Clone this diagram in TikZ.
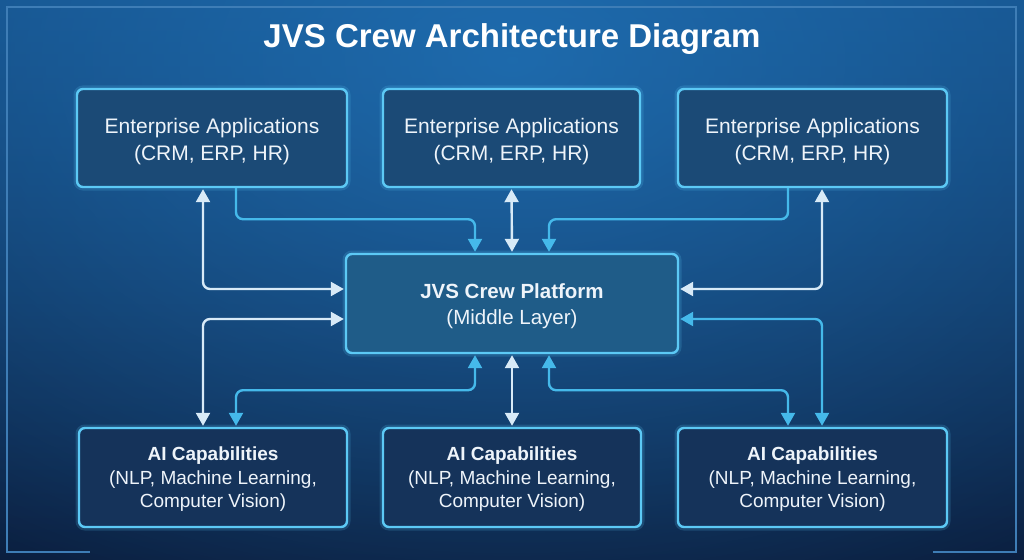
\documentclass[tikz,border=0pt]{standalone}
\usepackage{fontspec}
\setmainfont{Liberation Sans}
\newfontfamily\titlefont{Liberation Sans}
\usetikzlibrary{arrows.meta,fadings}
\definecolor{bgtop}{HTML}{13497F}
\definecolor{bgbot}{HTML}{0A1A38}
\definecolor{bgglow}{HTML}{2277BE}
\definecolor{framec}{HTML}{3E7DB6}
\definecolor{edgec}{HTML}{5CC9F5}
\definecolor{topfill}{HTML}{1B4A76}
\definecolor{pffill}{HTML}{1F5C88}
\definecolor{botfill}{HTML}{15335A}
\definecolor{wline}{HTML}{D8EAF7}
\definecolor{cline}{HTML}{45B9EA}
\definecolor{txt}{HTML}{EEF4FA}
\tikzfading[name=glowfade, inner color=transparent!0, outer color=transparent!100]
\tikzset{
  boxbase/.style={draw=edgec, line width=2.4pt, rounded corners=6pt,
    preaction={draw=edgec, line width=7pt, draw opacity=0.18, rounded corners=6pt}},
  topbox/.style={boxbase, fill=topfill, minimum height=98pt},
  pfbox/.style={boxbase, fill=pffill, minimum width=332pt, minimum height=99pt},
  botbox/.style={boxbase, fill=botfill, minimum height=99pt},
  toptext/.style={text=txt, align=center, font=\fontsize{21}{27}\selectfont},
  pftext/.style={text=txt, align=center, font=\fontsize{20.5}{26}\selectfont},
  bottext/.style={text=txt, align=center, font=\fontsize{19}{23.5}\selectfont},
  wconn/.style={draw=wline, line width=2.4pt, rounded corners=7pt},
  cconn/.style={draw=cline, line width=2.4pt, rounded corners=7pt},
  tip/.style={-{Triangle[length=13pt,width=14pt]}},
  tips/.style={{Triangle[length=13pt,width=14pt]}-{Triangle[length=13pt,width=14pt]}}
}
\begin{document}
\begin{tikzpicture}[x=1pt,y=-1pt]
\useasboundingbox (0,0) rectangle (1024,559);
% background
\shade[top color=bgtop, bottom color=bgbot] (0,0) rectangle (1024,559);
\fill[bgglow, path fading=glowfade, fill opacity=0.75] (512,60) ellipse (1000pt and 640pt);
% frame
\draw[framec, line width=1.4pt] (90,552) -- (7,552) -- (7,7) -- (1016,7) -- (1016,552) -- (933,552);
% title
\node[text=white, font=\titlefont\bfseries\fontsize{33}{36}\selectfont] (title) at (512,39) {JVS Crew Architecture Diagram};
% boxes
\node[topbox, minimum width=270pt] (tl) at (212,138) {};
\node[topbox, minimum width=257pt] (tm) at (511.5,138) {};
\node[topbox, minimum width=269pt] (tr) at (812.5,138) {};
\node[pfbox] (pf) at (512,303.5) {};
\node[botbox, minimum width=268pt] (bl) at (213,477.5) {};
\node[botbox, minimum width=258pt] (bm) at (512,477.5) {};
\node[botbox, minimum width=269pt] (br) at (812.5,477.5) {};
% texts
\node[toptext] (tlt) at ([yshift=-4pt]tl.center) {Enterprise Applications\\(CRM, ERP, HR)};
\node[toptext] (tmt) at ([yshift=-4pt]tm.center) {Enterprise Applications\\(CRM, ERP, HR)};
\node[toptext] (trt) at ([yshift=-4pt]tr.center) {Enterprise Applications\\(CRM, ERP, HR)};
\node[pftext] (pft) at ([yshift=-3pt]pf.center) {\textbf{JVS Crew Platform}\\(Middle Layer)};
\node[bottext] (blt) at ([yshift=-2pt]bl.center) {\textbf{AI Capabilities}\\(NLP, Machine Learning,\\Computer Vision)};
\node[bottext] (bmt) at ([yshift=-2pt]bm.center) {\textbf{AI Capabilities}\\(NLP, Machine Learning,\\Computer Vision)};
\node[bottext] (brt) at ([yshift=-2pt]br.center) {\textbf{AI Capabilities}\\(NLP, Machine Learning,\\Computer Vision)};
% connectors top
\draw[wconn, tips] ([xshift=-9pt,yshift=-1pt]tl.south) |- ([xshift=-1pt,yshift=14.5pt]pf.west);
\draw[cconn, tip] ([xshift=24pt]tl.south) -- ++(0,31) -| ([xshift=-37pt,yshift=1pt]pf.north);
\draw[wconn, tips] ([yshift=-1pt]tm.south) -- ([yshift=1pt]pf.north);
\draw[cconn, tip] ([xshift=-24.5pt]tr.south) -- ++(0,31) -| ([xshift=37pt,yshift=1pt]pf.north);
\draw[wconn, tips] ([xshift=9.5pt,yshift=-1pt]tr.south) |- ([xshift=1pt,yshift=14.5pt]pf.east);
% connectors bottom
\draw[wconn, tips] ([xshift=-1pt,yshift=-15.5pt]pf.west) -| ([xshift=-10pt,yshift=1pt]bl.north);
\draw[cconn, tips] ([xshift=-37pt,yshift=-1pt]pf.south) -- ++(0,35) -| ([xshift=23pt,yshift=1pt]bl.north);
\draw[wconn, tips] ([yshift=-1pt]pf.south) -- ([yshift=1pt]bm.north);
\draw[cconn, tips] ([xshift=37pt,yshift=-1pt]pf.south) -- ++(0,35) -| ([xshift=-24.5pt,yshift=1pt]br.north);
\draw[cconn, tips] ([xshift=1pt,yshift=-15.5pt]pf.east) -| ([xshift=9.5pt,yshift=1pt]br.north);
\end{tikzpicture}
\end{document}
